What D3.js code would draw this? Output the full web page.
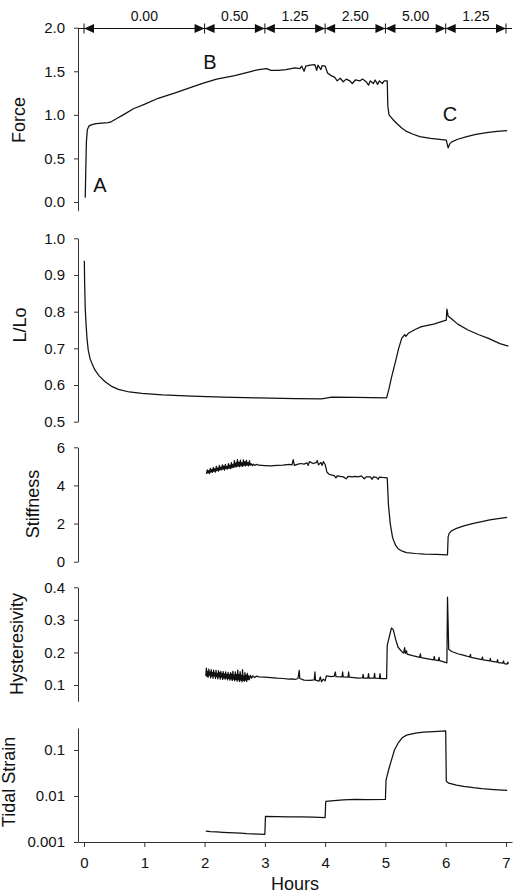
<!DOCTYPE html>
<html lang="en">
<meta charset="utf-8">
<head>
    <script src="https://d3js.org/d3.v7.min.js"></script>
    <style>
        body { margin: 0; background: #fff; }
        text { font-family: "Liberation Sans", Arial, sans-serif; fill: #111; }
    </style>
</head>
<body>
<script>

// values, [hours, value]
var hourTicks = [0, 1, 2, 3, 4, 5, 6, 7]
var stepEdges = [0, 2, 3, 4, 5, 6, 7]
var stepLabels = ["0.00", "0.50", "1.25", "2.50", "5.00", "1.25"]

var force = [[0.02,0.05],[0.03,0.4],[0.04,0.7],[0.055,0.83],[0.08,0.87],[0.12,0.885],[0.2,0.9],[0.3,0.905],
    [0.4,0.91],[0.45,0.92],[0.55,0.96],[0.65,1.0],[0.82,1.07],[1.0,1.12],[1.23,1.19],[1.5,1.25],[1.75,1.31],
    [1.98,1.365],[2.2,1.41],[2.5,1.45],[2.78,1.5],[2.9,1.52],[3.03,1.53],[3.1,1.51],[3.22,1.51],[3.35,1.52],
    [3.5,1.54],[3.58,1.53],[3.61,1.56],[3.65,1.5],[3.68,1.56],[3.75,1.57],[3.83,1.575],[3.86,1.51],[3.88,1.57],
    [3.93,1.52],[3.95,1.565],[4.0,1.56],[4.04,1.48],[4.1,1.45],[4.16,1.43],[4.2,1.39],[4.25,1.42],[4.3,1.38],
    [4.35,1.41],[4.41,1.39],[4.45,1.36],[4.5,1.4],[4.58,1.39],[4.62,1.41],[4.68,1.38],[4.72,1.34],[4.75,1.39],
    [4.8,1.36],[4.83,1.4],[4.87,1.35],[4.9,1.39],[4.95,1.36],[4.98,1.39],[5.03,1.39],[5.04,1.1],[5.06,1.0],
    [5.12,0.95],[5.19,0.9],[5.27,0.85],[5.35,0.81],[5.45,0.78],[5.57,0.75],[5.75,0.73],[6.01,0.71],[6.04,0.62],
    [6.07,0.67],[6.1,0.69],[6.2,0.72],[6.35,0.75],[6.5,0.775],[6.68,0.795],[6.85,0.81],[7.02,0.82]]

var lengthRatio = [[0.005,0.939],[0.01,0.88],[0.02,0.81],[0.033,0.768],[0.05,0.725],[0.07,0.695],[0.1,0.672],
    [0.14,0.655],[0.18,0.641],[0.25,0.625],[0.35,0.609],[0.45,0.597],[0.57,0.588],[0.75,0.581],[0.96,0.577],
    [1.3,0.573],[1.79,0.57],[2.3,0.567],[2.89,0.565],[3.5,0.563],[3.94,0.562],[4.11,0.567],[4.5,0.566],
    [5.02,0.565],[5.06,0.59],[5.1,0.62],[5.16,0.659],[5.22,0.7],[5.27,0.727],[5.32,0.737],[5.34,0.733],
    [5.38,0.741],[5.5,0.752],[5.6,0.759],[5.8,0.766],[6.01,0.777],[6.02,0.807],[6.04,0.788],[6.1,0.78],
    [6.2,0.766],[6.37,0.75],[6.55,0.737],[6.71,0.727],[6.9,0.713],[7.04,0.706]]

var stiffness = [[2.03,4.6],[2.045,4.82],[2.055,4.66],[2.07,4.78],[2.08,4.62],[2.095,4.9],[2.105,4.7],
    [2.12,4.84],[2.13,4.68],[2.145,4.95],[2.155,4.74],[2.17,4.88],[2.18,4.7],[2.195,5.0],[2.205,4.78],
    [2.22,4.92],[2.23,4.75],[2.245,5.05],[2.255,4.8],[2.27,4.96],[2.28,4.82],[2.295,5.08],[2.305,4.85],
    [2.32,5.02],[2.33,4.8],[2.345,5.1],[2.355,4.88],[2.37,5.0],[2.38,4.86],[2.395,5.14],[2.405,4.9],
    [2.42,5.06],[2.43,4.88],[2.445,5.2],[2.455,4.92],[2.47,5.1],[2.48,4.95],[2.495,5.3],[2.505,4.96],
    [2.52,5.18],[2.53,4.98],[2.545,5.35],[2.555,5.0],[2.57,5.22],[2.58,4.98],[2.595,5.33],[2.605,5.02],
    [2.62,5.2],[2.63,5.0],[2.645,5.34],[2.655,5.04],[2.67,5.25],[2.68,5.02],[2.695,5.32],[2.705,5.05],
    [2.72,5.2],[2.73,5.03],[2.745,5.3],[2.755,5.06],[2.77,5.15],[2.79,5.04],[2.81,5.12],[2.83,5.05],
    [2.86,5.1],[2.9,5.06],[2.95,5.05],[3.0,5.04],[3.1,5.02],[3.2,5.05],[3.3,5.07],[3.4,5.1],[3.45,5.08],
    [3.47,5.35],[3.49,5.05],[3.55,5.12],[3.6,5.15],[3.65,5.12],[3.7,5.18],[3.72,5.05],[3.74,5.25],[3.8,5.15],
    [3.85,5.2],[3.87,5.3],[3.89,5.08],[3.93,5.2],[3.95,5.05],[3.97,5.25],[4.0,5.1],[4.03,4.7],[4.06,4.6],
    [4.1,4.55],[4.15,4.52],[4.18,4.4],[4.2,4.5],[4.3,4.45],[4.35,4.35],[4.38,4.48],[4.45,4.45],[4.5,4.48],
    [4.55,4.45],[4.6,4.5],[4.65,4.35],[4.68,4.45],[4.75,4.45],[4.78,4.32],[4.8,4.45],[4.85,4.42],[4.88,4.32],
    [4.9,4.44],[4.95,4.42],[5.03,4.4],[5.05,3.0],[5.08,2.0],[5.12,1.25],[5.17,0.85],[5.21,0.68],[5.28,0.55],
    [5.35,0.48],[5.5,0.43],[5.65,0.4],[5.85,0.38],[6.03,0.36],[6.04,1.3],[6.06,1.5],[6.1,1.62],[6.18,1.75],
    [6.3,1.88],[6.46,2.01],[6.6,2.1],[6.73,2.19],[6.9,2.27],[7.02,2.32]]

var hysteresivity = [[2.02,0.128],[2.03,0.152],[2.04,0.126],[2.05,0.142],[2.06,0.124],[2.07,0.149],[2.08,0.13],
    [2.09,0.14],[2.1,0.122],[2.11,0.147],[2.12,0.127],[2.13,0.139],[2.14,0.121],[2.15,0.146],[2.16,0.128],
    [2.17,0.137],[2.18,0.12],[2.19,0.145],[2.2,0.126],[2.21,0.136],[2.22,0.119],[2.23,0.144],[2.24,0.125],
    [2.25,0.138],[2.26,0.118],[2.27,0.142],[2.28,0.124],[2.29,0.135],[2.3,0.117],[2.31,0.141],[2.32,0.122],
    [2.33,0.134],[2.34,0.118],[2.35,0.14],[2.36,0.121],[2.37,0.133],[2.38,0.116],[2.39,0.139],[2.4,0.12],
    [2.41,0.132],[2.42,0.115],[2.43,0.138],[2.44,0.119],[2.45,0.134],[2.46,0.114],[2.47,0.142],[2.48,0.118],
    [2.49,0.131],[2.5,0.113],[2.51,0.14],[2.52,0.117],[2.53,0.133],[2.54,0.112],[2.55,0.146],[2.56,0.116],
    [2.57,0.132],[2.58,0.111],[2.59,0.141],[2.6,0.115],[2.61,0.13],[2.62,0.11],[2.63,0.147],[2.64,0.114],
    [2.65,0.128],[2.66,0.112],[2.67,0.138],[2.68,0.115],[2.69,0.13],[2.7,0.111],[2.71,0.136],[2.72,0.117],
    [2.73,0.128],[2.74,0.116],[2.76,0.13],[2.78,0.121],[2.8,0.128],[2.83,0.123],[2.86,0.127],[2.9,0.125],
    [3.0,0.124],[3.1,0.123],[3.2,0.121],[3.3,0.12],[3.4,0.118],[3.45,0.119],[3.5,0.117],[3.55,0.12],
    [3.57,0.145],[3.58,0.12],[3.65,0.115],[3.75,0.114],[3.82,0.116],[3.83,0.14],[3.84,0.115],[3.9,0.112],
    [3.92,0.125],[3.94,0.11],[3.97,0.118],[4.0,0.113],[4.02,0.128],[4.1,0.126],[4.15,0.127],[4.17,0.14],
    [4.18,0.126],[4.28,0.125],[4.29,0.14],[4.3,0.125],[4.38,0.124],[4.39,0.14],[4.4,0.124],[4.55,0.121],
    [4.62,0.122],[4.63,0.133],[4.64,0.121],[4.71,0.121],[4.72,0.135],[4.73,0.121],[4.81,0.121],[4.82,0.136],
    [4.83,0.121],[4.9,0.12],[4.91,0.135],[4.92,0.12],[5.02,0.12],[5.03,0.222],[5.06,0.245],[5.1,0.275],
    [5.13,0.27],[5.17,0.24],[5.21,0.216],[5.27,0.203],[5.3,0.198],[5.32,0.215],[5.33,0.197],[5.35,0.205],
    [5.36,0.195],[5.45,0.19],[5.57,0.185],[5.58,0.196],[5.59,0.184],[5.8,0.177],[5.81,0.188],[5.82,0.177],
    [5.88,0.175],[5.89,0.185],[5.9,0.175],[6.02,0.168],[6.03,0.37],[6.05,0.21],[6.1,0.203],[6.2,0.196],
    [6.29,0.192],[6.4,0.186],[6.41,0.194],[6.42,0.185],[6.5,0.182],[6.6,0.178],[6.61,0.186],[6.62,0.177],
    [6.73,0.174],[6.74,0.182],[6.75,0.173],[6.85,0.17],[6.86,0.178],[6.87,0.169],[6.95,0.167],[6.96,0.174],
    [6.97,0.166],[7.02,0.164],[7.03,0.17],[7.04,0.165]]

var tidalStrain = [[2.02,0.00172],[2.1,0.00168],[2.2,0.00165],[2.3,0.00162],[2.4,0.0016],[2.5,0.00158],
    [2.6,0.00156],[2.7,0.00152],[2.8,0.0015],[2.9,0.00148],[3.0,0.00147],[3.01,0.0036],[3.2,0.00355],
    [3.4,0.0035],[3.6,0.00352],[3.8,0.00345],[4.0,0.0034],[4.01,0.0076],[4.1,0.0078],[4.3,0.0082],
    [4.5,0.0084],[4.7,0.0083],[5.0,0.0084],[5.01,0.022],[5.06,0.04],[5.1,0.06],[5.15,0.1],[5.21,0.14],
    [5.28,0.185],[5.35,0.21],[5.5,0.232],[5.63,0.243],[5.8,0.25],[6.0,0.259],[6.01,0.021],[6.05,0.019],
    [6.18,0.0173],[6.3,0.0162],[6.46,0.0151],[6.6,0.0144],[6.8,0.0138],[7.02,0.0133]]

// build svg
var svg = d3.select('body').append('svg')
    .attr('width', 526)
    .attr('height', 893)

var x = d3.scaleLinear().domain([-0.1, 7.1]).range([78, 512])

var panels = [
    { label: 'Force', data: force, ticks: [0, 0.5, 1, 1.5, 2], fmt: d3.format('.1f'),
      y: d3.scaleLinear().domain([-0.1, 2.0]).range([210.7, 27.7]), lx: 25, ly: 120 },
    { label: 'L/Lo', data: lengthRatio, ticks: [0.5, 0.6, 0.7, 0.8, 0.9, 1.0], fmt: d3.format('.1f'),
      y: d3.scaleLinear().domain([0.5, 1.0]).range([421.7, 238.3]), lx: 26, ly: 325 },
    { label: 'Stiffness', data: stiffness, ticks: [0, 2, 4, 6], fmt: d3.format('d'),
      y: d3.scaleLinear().domain([0, 6]).range([561.7, 447.3]), lx: 39, ly: 504 },
    { label: 'Hysteresivity', data: hysteresivity, ticks: [0.1, 0.2, 0.3, 0.4], fmt: d3.format('.1f'),
      y: d3.scaleLinear().domain([0.05, 0.4]).range([701.3, 587.3]), lx: 23, ly: 644 },
    { label: 'Tidal Strain', data: tidalStrain, ticks: [0.001, 0.01, 0.1], fmt: function(d) { return String(d) },
      y: d3.scaleLog().domain([0.001, 0.3]).range([842, 728]), lx: 15, ly: 782 }
]

panels.forEach(function(p) {
    var g = svg.append('g')
        .attr('transform', 'translate(78,0)')
        .call(d3.axisLeft(p.y).tickValues(p.ticks).tickFormat(p.fmt)
            .tickSize(4).tickSizeOuter(0).tickPadding(9))
    g.attr('font-size', 15).attr('font-family', null)
    g.selectAll('path, line').attr('stroke', '#333')

    svg.append('text')
        .attr('transform', 'translate(' + p.lx + ',' + p.ly + ') rotate(-90)')
        .attr('text-anchor', 'middle')
        .style('font-size', '18px')
        .text(p.label)

    svg.append('path')
        .datum(p.data)
        .attr('fill', 'none')
        .attr('stroke', '#111')
        .attr('stroke-width', 1.25)
        .attr('stroke-linejoin', 'round')
        .attr('d', d3.line()
            .x(function(d) { return x(d[0]) })
            .y(function(d) { return p.y(d[1]) })
        )
})

// bottom axis
var xAxis = svg.append('g')
    .attr('transform', 'translate(0,842)')
    .call(d3.axisBottom(x).tickValues(hourTicks).tickFormat(d3.format('d'))
        .tickSize(5).tickSizeOuter(0).tickPadding(10))
xAxis.attr('font-size', 15).attr('font-family', null)
xAxis.selectAll('path, line').attr('stroke', '#333')

svg.append('text')
    .attr('x', x(3.5))
    .attr('y', 890)
    .attr('text-anchor', 'middle')
    .style('font-size', '18px')
    .text('Hours')

// step arrows along the top of the force panel
var barY = 28.5
svg.append('line')
    .attr('x1', x(-0.1)).attr('x2', x(7.1))
    .attr('y1', barY).attr('y2', barY)
    .attr('stroke', '#111')

svg.selectAll('.edge')
    .data(stepEdges)
    .enter().append('line')
    .attr('x1', function(d) { return x(d) }).attr('x2', function(d) { return x(d) })
    .attr('y1', barY - 5).attr('y2', barY + 5)
    .attr('stroke', '#111')

for (var i = 0; i < stepLabels.length; i++) {
    var a = x(stepEdges[i]), b = x(stepEdges[i + 1])
    svg.append('path')
        .attr('d', 'M' + a + ',' + barY + 'L' + (a + 10) + ',' + (barY - 4.5) + 'L' + (a + 10) + ',' + (barY + 4.5) + 'Z')
        .attr('fill', '#111')
    svg.append('path')
        .attr('d', 'M' + b + ',' + barY + 'L' + (b - 10) + ',' + (barY - 4.5) + 'L' + (b - 10) + ',' + (barY + 4.5) + 'Z')
        .attr('fill', '#111')
    svg.append('text')
        .attr('x', (a + b) / 2)
        .attr('y', 21)
        .attr('text-anchor', 'middle')
        .style('font-size', '14px')
        .text(stepLabels[i])
}

// point labels
var fy = panels[0].y
var marks = [['A', 0.265, 0.11], ['B', 2.09, 1.53], ['C', 6.07, 0.93]]
marks.forEach(function(m) {
    svg.append('text')
        .attr('x', x(m[1]))
        .attr('y', fy(m[2]))
        .attr('text-anchor', 'middle')
        .style('font-size', '20px')
        .text(m[0])
})

</script>
</body>
</html>
